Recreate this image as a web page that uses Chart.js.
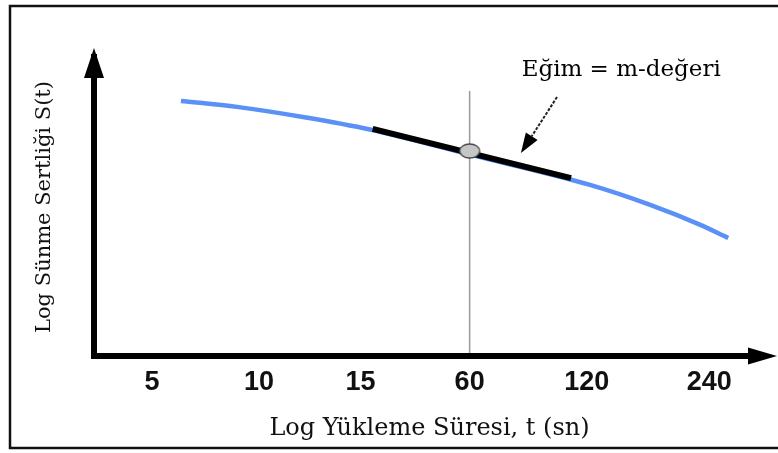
<!DOCTYPE html>
<html>
<head>
<meta charset="utf-8">
<script src="https://cdn.jsdelivr.net/npm/chart.js@4.4.1/dist/chart.umd.min.js"></script>
<style>
  html, body { margin: 0; padding: 0; background: #ffffff; }
  #wrap { width: 778px; height: 453px; position: relative; }
</style>
</head>
<body>
<div id="wrap"><canvas id="c" width="778" height="453"></canvas></div>
<script>
// ---- data (axis units: tick slots on x, 0..100 on y) ----
const tickLabels = ['5', '10', '15', '60', '120', '240'];
const tickAt     = [0, 0.96, 1.87, 2.85, 3.9, 5.0];

const curveX = [0.26, 0.763, 1.355, 1.956, 2.853, 3.93, 4.47, 4.92, 5.17];
const curveY = [85.6, 83.6, 80.2, 76.0, 67.6, 57.4, 50.7, 44.0, 39.6];

const tangentX = [1.98, 3.76];
const tangentY = [76.2, 59.7];

const pointX = [2.85];
const pointY = [68.8];

const guideX = [2.85, 2.85];
const guideY = [0, 88.9];

const noteText = 'Eğim = m-değeri';
const noteAt = [4.21, 96.0];
const arrowFrom = [3.634, 86.9];
const arrowTo = [3.31, 68.1];

const xTitle = 'Log Yükleme Süresi, t (sn)';
const yTitle = 'Log Sünme Sertliği S(t)';

// ---- helpers ----
const pts = (xs, ys) => xs.map((x, i) => ({ x: x, y: ys[i] }));

// ellipse marker drawn on a small canvas
const ell = document.createElement('canvas');
ell.width = 24; ell.height = 18;
(function () {
  const g = ell.getContext('2d');
  g.beginPath();
  g.ellipse(12, 9, 10, 7, 0, 0, Math.PI * 2);
  g.fillStyle = '#c6c6c6';
  g.fill();
  g.lineWidth = 1.4;
  g.strokeStyle = '#4a4a4a';
  g.stroke();
})();

const decor = {
  id: 'decor',
  beforeDraw(chart) {
    const ctx = chart.ctx;
    ctx.save();
    ctx.fillStyle = '#ffffff';
    ctx.fillRect(0, 0, chart.width, chart.height);
    // outer frame (open on the right as in the reference)
    ctx.strokeStyle = '#111111';
    ctx.lineWidth = 2.5;
    ctx.beginPath();
    ctx.moveTo(778, 6);
    ctx.lineTo(10, 6);
    ctx.lineTo(10, 448);
    ctx.lineTo(778, 448);
    ctx.stroke();
    ctx.restore();
  },
  afterDatasetsDraw(chart) {
    const ctx = chart.ctx;
    const a = chart.chartArea;
    const xs = chart.scales.x, ys = chart.scales.y;
    ctx.save();
    // axes
    ctx.fillStyle = '#000000';
    ctx.fillRect(a.left - 3, a.top - 4, 6, a.bottom - a.top + 7);   // y axis line
    ctx.fillRect(a.left - 3, a.bottom - 3, a.right - a.left + 4, 6); // x axis line
    // y arrow head
    ctx.beginPath();
    ctx.moveTo(a.left, a.top - 10);
    ctx.lineTo(a.left + 10, a.top + 20);
    ctx.lineTo(a.left - 10, a.top + 20);
    ctx.closePath();
    ctx.fill();
    // x arrow head
    ctx.beginPath();
    ctx.moveTo(a.right + 12, a.bottom);
    ctx.lineTo(a.right - 17, a.bottom - 8.5);
    ctx.lineTo(a.right - 17, a.bottom + 8.5);
    ctx.closePath();
    ctx.fill();

    // annotation arrow
    const x1 = xs.getPixelForValue(arrowFrom[0]), y1 = ys.getPixelForValue(arrowFrom[1]);
    const x2 = xs.getPixelForValue(arrowTo[0]), y2 = ys.getPixelForValue(arrowTo[1]);
    const ang = Math.atan2(y2 - y1, x2 - x1);
    const hl = 20, hw = 7;
    const bx = x2 - hl * Math.cos(ang), by = y2 - hl * Math.sin(ang);
    ctx.strokeStyle = '#222222';
    ctx.lineWidth = 2;
    ctx.setLineDash([3, 1.5]);
    ctx.beginPath();
    ctx.moveTo(x1, y1);
    ctx.lineTo(bx, by);
    ctx.stroke();
    ctx.setLineDash([]);
    ctx.fillStyle = '#000000';
    ctx.beginPath();
    ctx.moveTo(x2, y2);
    ctx.lineTo(bx + hw * Math.sin(ang), by - hw * Math.cos(ang));
    ctx.lineTo(bx - hw * Math.sin(ang), by + hw * Math.cos(ang));
    ctx.closePath();
    ctx.fill();

    // annotation text
    ctx.font = '23px "DejaVu Serif"';
    ctx.textAlign = 'center';
    ctx.textBaseline = 'middle';
    ctx.fillStyle = '#000000';
    ctx.fillText(noteText, xs.getPixelForValue(noteAt[0]), ys.getPixelForValue(noteAt[1]));
    ctx.restore();
  }
};

new Chart(document.getElementById('c'), {
  type: 'line',
  data: {
    datasets: [
      {
        label: 'guide',
        data: pts(guideX, guideY),
        borderColor: '#9a9a9a',
        borderWidth: 1.5,
        pointRadius: 0,
        order: 4
      },
      {
        label: 'S(t)',
        data: pts(curveX, curveY),
        borderColor: '#5b91f7',
        borderWidth: 4.5,
        pointRadius: 0,
        cubicInterpolationMode: 'monotone',
        order: 3
      },
      {
        label: 'tangent',
        data: pts(tangentX, tangentY),
        borderColor: '#000000',
        borderWidth: 6,
        borderCapStyle: 'butt',
        pointRadius: 0,
        order: 2
      },
      {
        label: 'point',
        data: pts(pointX, pointY),
        showLine: false,
        pointStyle: ell,
        pointRadius: 10,
        order: 1
      }
    ]
  },
  options: {
    responsive: false,
    animation: false,
    devicePixelRatio: 1,
    layout: { padding: { left: 0, right: 13, top: 58, bottom: 0 } },
    plugins: { legend: { display: false }, tooltip: { enabled: false } },
    scales: {
      x: {
        type: 'linear',
        min: -0.52,
        max: 5.5,
        grid: { display: false },
        border: { display: false },
        afterBuildTicks: (s) => { s.ticks = tickAt.map(v => ({ value: v })); },
        afterFit: (s) => { s.height = 97; },
        ticks: {
          autoSkip: false,
          maxRotation: 0,
          padding: 2,
          color: '#111111',
          font: { family: '"Liberation Sans", Arial, sans-serif', size: 27, weight: 'bold' },
          callback: (v, i) => tickLabels[i]
        },
        title: {
          display: true,
          text: xTitle,
          color: '#111111',
          font: { family: '"DejaVu Serif", serif', size: 24, weight: 'normal' },
          padding: { top: 0, bottom: 10 }
        }
      },
      y: {
        type: 'linear',
        min: 0,
        max: 100,
        grid: { display: false },
        border: { display: false },
        ticks: { display: false },
        afterFit: (s) => { s.width = 94; },
        title: {
          display: true,
          text: yTitle,
          color: '#111111',
          font: { family: '"DejaVu Serif", serif', size: 21, weight: 'normal' },
          padding: { top: 32, bottom: 0 }
        }
      }
    }
  },
  plugins: [decor]
});
</script>
</body>
</html>
